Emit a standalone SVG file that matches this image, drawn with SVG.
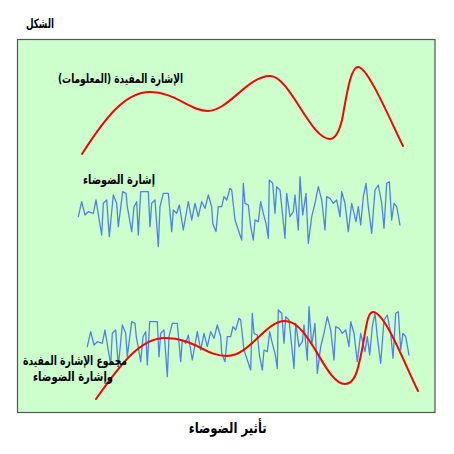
<svg xmlns="http://www.w3.org/2000/svg" xmlns:xlink="http://www.w3.org/1999/xlink" width="454" height="454" viewBox="0 0 454 454">
<style>
.t{font-family:"DejaVu Sans","Liberation Sans",sans-serif;font-weight:bold;fill:#000;}
.sig{fill:none;stroke:#ff0000;stroke-width:2;stroke-linecap:round;stroke-linejoin:round;}
.noise{fill:none;stroke:#4f7ff0;stroke-width:1.3;stroke-linejoin:round;stroke-linecap:round;}
</style>
<defs>
<polyline id="noiseLine" class="noise" points="78.3,216.7 81.7,201.7 85,215 88.3,211.7 93.3,213.3 96,200 101.7,235 103.3,203.3 106.7,200 109.3,236.7 113.3,195 116.7,203.3 118.3,226.7 122.7,191.7 126,193.3 127.3,206.7 131.7,231.7 134,206.7 136.7,201.7 138.3,235 140.7,191.7 148.3,191.7 150,226.7 151.7,203.3 155,200 158.3,246.7 160,206.7 163.3,193.3 168.3,193.3 171.7,231.7 173.3,210 176.7,213.3 179.3,205 183.3,230 188.3,201.7 191.7,220 195,203.3 198.3,216.7 201.7,201.7 205,208.3 208.3,195 211.7,206.7 212.7,223.3 216,231.7 218.3,206.7 221.7,206.7 224,196.7 226.7,200 230,188.3 231.7,190 235,220 240,235 241.7,240 243.3,183.3 245,203.3 248.3,205 250.7,226.7 253.3,240 255,220 258.3,221.7 260.7,201.7 263.3,213.3 266,223.3 268.3,238.3 269.3,180 272.7,183.3 275,213.3 276.7,186.7 280,190 285,238.3 286.7,193.3 290,216.7 293.3,211.7 295,195 298.3,230 300,176.7 302.7,215 306,193.3 308.3,243.3 311.7,216.7 315,203.3 318.3,186.7 321.7,200 325,230 326.7,196.7 330,198.3 333.3,203.3 336.7,200 340,216.7 341.7,191.7 345,203.3 348.3,231.7 351.7,203.3 356,221.7 358.3,206.7 360.7,225 363.3,196.7 366,183.3 368.3,206.7 371.7,233.3 375,190 378.3,185 381.7,203.3 384,228.3 386.7,183.3 389.3,181.7 391.7,220 394,203.3 396.7,206.7 400,225"/>
</defs>
<rect width="454" height="454" fill="#ffffff"/>
<text class="t" x="54" y="28" font-size="13" text-anchor="end" textLength="28" lengthAdjust="spacingAndGlyphs">الشكل</text>
<rect x="17.5" y="39.5" width="417.5" height="373" fill="#ccffcc" stroke="#555555" stroke-width="1.2"/>
<g id="useful-signal">
<path class="sig" d="M82,154 C105,118 125,92 150,92 C175,92 190,111 208,111 C228,111 248,76 270,76 C290,76 310,139 330,139 C336,139 340,128 342,120 C346,100 350,67 358,67 C368,67 390,120 403,146"/>
<text class="t" x="183" y="83" font-size="12.5" text-anchor="end" textLength="125" lengthAdjust="spacingAndGlyphs">الإشارة المفيدة (المعلومات)</text>
</g>
<g id="noise-signal">
<use xlink:href="#noiseLine"/>
<text class="t" x="155" y="184" font-size="12.5" text-anchor="end" textLength="72" lengthAdjust="spacingAndGlyphs">إشارة الضوضاء</text>
</g>
<g id="sum-signal">
<use xlink:href="#noiseLine" transform="translate(9,130)"/>
<path class="sig" d="M96,399 C120,365 140,338 165,338 C195,338 205,356 227,356 C250,356 265,321 285,321 C310,321 325,384 345,384 C355,384 358,370 362,350 C366,330 367,312 373,312 C385,312 405,365 418,391"/>
<text class="t" x="127" y="365" font-size="12.5" text-anchor="end" textLength="104" lengthAdjust="spacingAndGlyphs">مجموع الإشارة المفيدة</text>
<text class="t" x="113" y="381" font-size="12.5" text-anchor="end" textLength="80" lengthAdjust="spacingAndGlyphs">وإشارة الضوضاء</text>
</g>
<text class="t" x="266.7" y="433" font-size="15" text-anchor="end" textLength="78" lengthAdjust="spacingAndGlyphs">تأثير الضوضاء</text>
<g id="connectors"/>
</svg>
